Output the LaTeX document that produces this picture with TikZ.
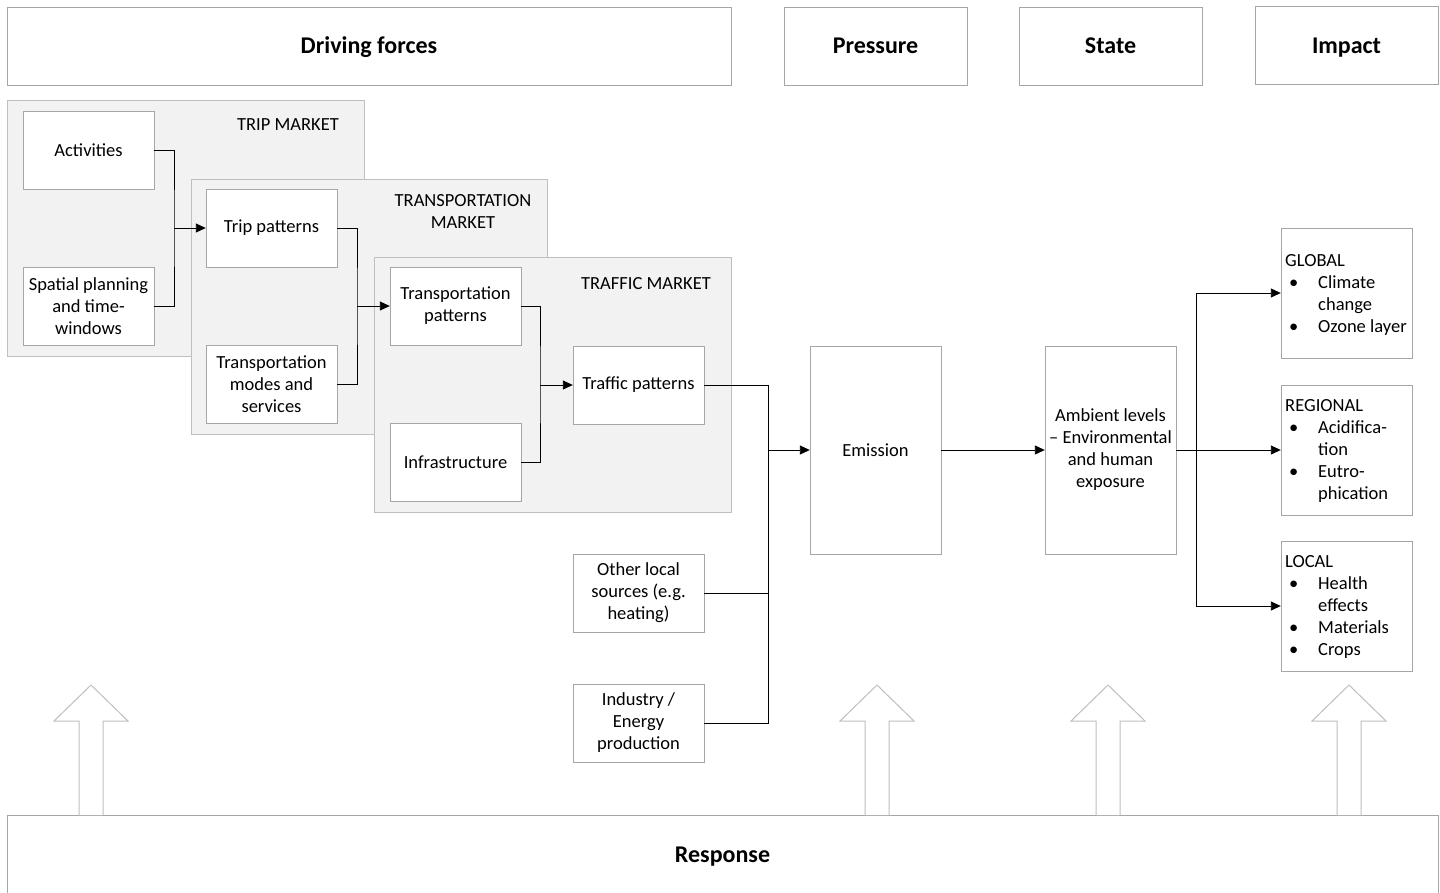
\documentclass[tikz,border=0pt]{standalone}
\usepackage{fontspec}
\setmainfont{Carlito}
\usetikzlibrary{arrows.meta}
\definecolor{boxline}{HTML}{A6A6A6}
\definecolor{panelline}{HTML}{BFBFBF}
\definecolor{panelfill}{HTML}{F2F2F2}
\begin{document}
\begin{tikzpicture}[x=1pt,y=-1pt,
  every node/.style={font=\fontsize{18.5}{22}\selectfont},
  head/.style={draw=boxline,fill=white,inner sep=0pt,text height=18pt,text depth=2.5pt,
    font=\fontsize{24}{28}\selectfont\bfseries},
  panel/.style={draw=panelline,fill=panelfill,inner sep=0pt},
  box/.style={draw=boxline,fill=white,inner sep=0pt,align=center,minimum width=131pt,minimum height=78pt},
  tall/.style={box,minimum height=208pt},
  listbox/.style={box,minimum height=130pt},
  label/.style={inner sep=0pt,align=center},
  link/.style={draw=black,line width=0.9pt},
  flow/.style={link,-{Triangle[length=10pt,width=9pt]}},
  blockarrow/.style={draw=panelline,fill=white,line width=1pt}
]
\useasboundingbox (0,0) rectangle (1440,892);

% header row
\node[head,minimum width=724pt,minimum height=78pt] (drive) at (369,46) {Driving forces};
\node[head,minimum width=183pt,minimum height=78pt] (press) at (875.5,46) {Pressure};
\node[head,minimum width=183pt,minimum height=78pt] (state) at (1110.5,46) {State};
\node[head,minimum width=183pt,minimum height=78pt] (impact) at (1346.5,45.5) {Impact};

% response bar
\node[head,minimum width=1431pt,minimum height=80pt] (resp) at (722.5,855) {Response};

% market panels
\node[panel,minimum width=357pt,minimum height=256pt] (tripmkt) at (185.5,228) {};
\node[label] (tripmktlbl) at (288,125) {TRIP MARKET};
\node[box] (act) at (88.5,150) {Activities};
\node[box] (spat) at (88.5,306) {Spatial planning\\and time-\\windows};

\node[panel,minimum width=356pt,minimum height=255pt] (transmkt) at (369,306.5) {};
\node[label] (transmktlbl) at (463,211) {TRANSPORTATION\\MARKET};
\node[box] (trip) at (271.5,228) {Trip patterns};
\node[box] (modes) at (271.5,384) {Transportation\\modes and\\services};

\node[panel,minimum width=357pt,minimum height=255pt] (trafmkt) at (552.5,384.5) {};
\node[label] (trafmktlbl) at (646,284) {TRAFFIC MARKET};
\node[box] (tpat) at (455.5,306) {Transportation\\patterns};
\node[box] (infra) at (455.5,462.5) {Infrastructure};
\node[box] (traf) at (638.5,385) {Traffic patterns};

% other sources
\node[box] (other) at (638.5,593) {Other local\\sources (e.g.\\heating)};
\node[box] (ind) at (638.5,723) {Industry /\\Energy\\production};

% pressure and state
\node[tall] (emis) at (875.5,450) {Emission};
\node[tall] (amb) at (1110.5,450) {Ambient levels\\– Environmental\\and human\\exposure};

% impact boxes
\node[listbox] (glob) at (1346.5,293) {};
\node[listbox] (reg) at (1346.5,450) {};
\node[listbox] (loc) at (1346.5,606) {};
\newcommand{\bul}{\makebox[33pt][l]{\hspace{4pt}\textbullet}}
\newcommand{\ind}{\hspace*{33pt}}
\node[anchor=north west,inner sep=0pt,align=left] (globtxt) at (1285,254)
  {GLOBAL\\\bul Climate\\\ind change\\\bul Ozone layer};
\node[anchor=north west,inner sep=0pt,align=left] (regtxt) at (1285,399)
  {REGIONAL\\\bul Acidifica-\\\ind tion\\\bul Eutro-\\\ind phication};
\node[anchor=north west,inner sep=0pt,align=left] (loctxt) at (1285,555)
  {LOCAL\\\bul Health\\\ind effects\\\bul Materials\\\bul Crops};

% junctions
\coordinate (j1) at (174,228);
\coordinate (j2) at (357,306);
\coordinate (j3) at (540,385);
\coordinate (j4) at (768,450);
\coordinate (j5) at (1196,450);

% connectors
\draw[link] (act.east) -| (j1) |- (spat.east);
\draw[flow] (j1) -- (trip.west);
\draw[link] (trip.east) -| (j2) |- (modes.east);
\draw[flow] (j2) -- (tpat.west);
\draw[link] (tpat.east) -| (j3) |- (infra.east);
\draw[flow] (j3) -- (traf.west);
\draw[link] (traf.east) -| (j4) |- (ind.east);
\draw[link] (other.east) -- (other.east -| j4);
\draw[flow] (j4) -- (emis.west);
\draw[flow] (emis.east) -- (amb.west);
\draw[link] (amb.east) -- (j5);
\draw[flow] (j5) |- (glob.west);
\draw[flow] (j5) -- (reg.west);
\draw[flow] (j5) |- (loc.west);

% response arrows
\foreach \cx in {91,877,1108,1349}{
  \draw[blockarrow] (\cx-12,815) -- (\cx-12,721) -- (\cx-37,721) -- (\cx,685)
    -- (\cx+37,721) -- (\cx+12,721) -- (\cx+12,815);
}
\end{tikzpicture}
\end{document}
